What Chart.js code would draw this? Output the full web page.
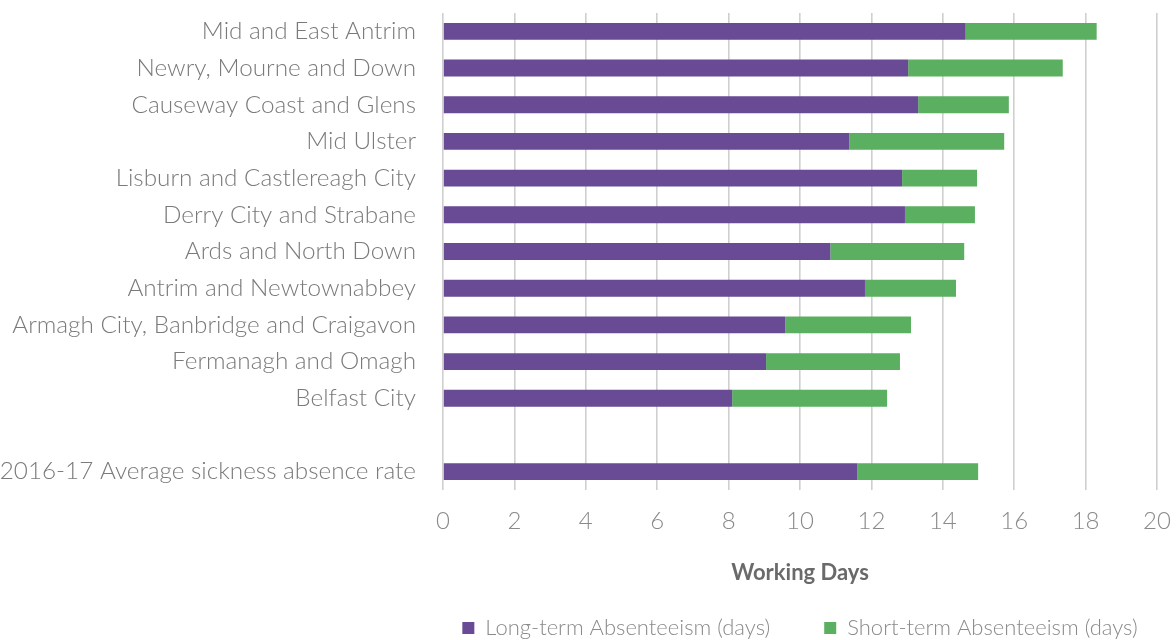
<!DOCTYPE html>
<html>
<head>
<meta charset="utf-8">
<script src="https://cdn.jsdelivr.net/npm/chart.js@4.4.1/dist/chart.umd.min.js"></script>
<style>
html,body{margin:0;padding:0;background:#fff;}
#wrap{width:1176px;height:640px;}
</style>
</head>
<body>
<div id="wrap"><canvas id="c" width="1176" height="640"></canvas></div>
<script>
const categories = [
  "Mid and East Antrim",
  "Newry, Mourne and Down",
  "Causeway Coast and Glens",
  "Mid Ulster",
  "Lisburn and Castlereagh City",
  "Derry City and Strabane",
  "Ards and North Down",
  "Antrim and Newtownabbey",
  "Armagh City, Banbridge and Craigavon",
  "Fermanagh and Omagh",
  "Belfast City",
  "",
  "2016-17 Average sickness absence rate"
];
const longTerm  = [14.64, 13.03, 13.31, 11.38, 12.86, 12.94, 10.85, 11.82, 9.59, 9.05, 8.10, null, 11.60];
const shortTerm = [3.67, 4.33, 2.54, 4.34, 2.10, 1.96, 3.75, 2.55, 3.52, 3.75, 4.34, null, 3.39];
const xTicks = [0, 2, 4, 6, 8, 10, 12, 14, 16, 18, 20];
const seriesNames = ["Long-term Absenteeism (days)", "Short-term Absenteeism (days)"];
const axisTitle = "Working Days";

const FONT = "Lato, 'Open Sans', sans-serif";

// centre the legend under the plot area (as in the original) instead of the full canvas
const legendUnderPlot = {
  id: 'legendUnderPlot',
  afterLayout(chart) {
    const lg = chart.legend;
    if (lg) {
      const d = (chart.chartArea.left + chart.chartArea.right) / 2 - (lg.left + lg.right) / 2;
      lg.left += d;
      lg.right += d;
    }
  }
};

new Chart(document.getElementById('c'), {
  type: 'bar',
  data: {
    labels: categories,
    datasets: [
      { label: seriesNames[0], data: longTerm, backgroundColor: '#694A95', borderWidth: 0,
        categoryPercentage: 0.92, barPercentage: 0.5 },
      { label: seriesNames[1], data: shortTerm, backgroundColor: '#5BAF60', borderWidth: 0,
        categoryPercentage: 0.92, barPercentage: 0.5 }
    ]
  },
  plugins: [legendUnderPlot],
  options: {
    indexAxis: 'y',
    responsive: false,
    animation: false,
    layout: { padding: { top: 13, right: 19, left: 0, bottom: -9 } },
    scales: {
      x: {
        stacked: true,
        min: 0, max: 20,
        afterBuildTicks: (ax) => { ax.ticks = xTicks.map(v => ({ value: v })); },
        afterFit: (s) => { s.height = 73; s.paddingLeft = 0; s.paddingRight = 0; },
        grid: { color: '#cfcfcf', lineWidth: 1.6, drawTicks: false },
        border: { display: false },
        ticks: { color: '#8a8a8a', font: { family: FONT, size: 24, weight: '300' }, padding: 17 },
        title: { display: true, text: axisTitle, color: '#6a6a6a',
                 font: { family: FONT, size: 22, weight: 'bold' }, padding: { top: 0, bottom: -23 } }
      },
      y: {
        stacked: true,
        afterFit: (s) => { s.width = 443; s.paddingTop = 0; s.paddingBottom = 0; },
        grid: { display: false, drawTicks: false },
        border: { display: false },
        ticks: { color: '#7a7a7a', font: { family: FONT, size: 24.3, weight: '300' }, padding: 27, autoSkip: false }
      }
    },
    plugins: {
      legend: {
        position: 'bottom',
        labels: {
          color: '#8a8a8a',
          font: { family: FONT, size: 22, weight: '300' },
          boxWidth: 12, boxHeight: 12, padding: 54
        }
      },
      tooltip: { enabled: false }
    }
  }
});
</script>
</body>
</html>
